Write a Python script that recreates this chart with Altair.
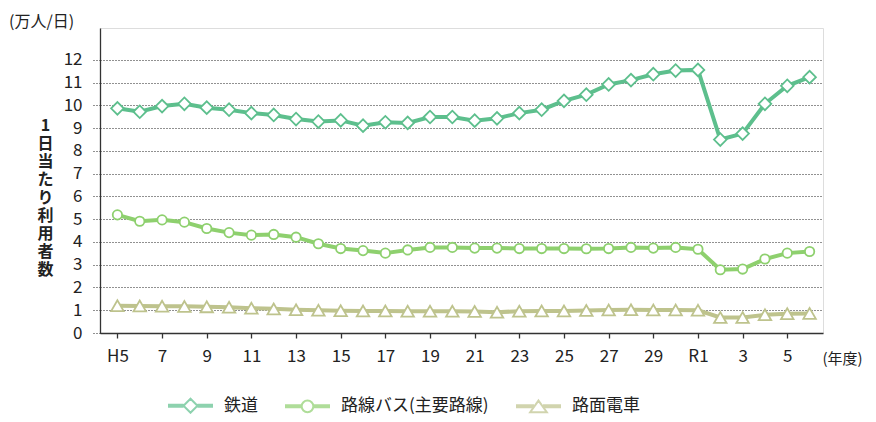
import altair as alt
import pandas as pd

years = ["H5", "H6", "H7", "H8", "H9", "H10", "H11", "H12", "H13", "H14",
         "H15", "H16", "H17", "H18", "H19", "H20", "H21", "H22", "H23", "H24",
         "H25", "H26", "H27", "H28", "H29", "H30", "R1", "R2", "R3", "R4", "R5", "R6"]
tick_labels = ["H5", "7", "9", "11", "13", "15", "17", "19", "21", "23",
               "25", "27", "29", "R1", "3", "5"]
series_names = ["鉄道", "路線バス(主要路線)", "路面電車"]

rail = [9.87, 9.72, 9.97, 10.07, 9.90, 9.81, 9.66, 9.58, 9.40, 9.29,
        9.34, 9.11, 9.26, 9.23, 9.49, 9.49, 9.33, 9.43, 9.66, 9.81,
        10.20, 10.47, 10.92, 11.11, 11.37, 11.53, 11.56, 8.50, 8.76, 10.07, 10.86, 11.24]
bus = [5.19, 4.91, 4.97, 4.87, 4.59, 4.41, 4.30, 4.33, 4.21, 3.92,
       3.71, 3.62, 3.51, 3.65, 3.76, 3.76, 3.73, 3.73, 3.71, 3.71,
       3.71, 3.70, 3.71, 3.76, 3.73, 3.76, 3.68, 2.78, 2.81, 3.25, 3.51, 3.58]
tram = [1.20, 1.19, 1.18, 1.17, 1.15, 1.13, 1.09, 1.06, 1.02, 1.00,
        0.98, 0.97, 0.97, 0.96, 0.96, 0.96, 0.95, 0.91, 0.96, 0.97,
        0.97, 0.99, 1.01, 1.02, 1.01, 1.01, 1.00, 0.68, 0.68, 0.80, 0.85, 0.86]

colors = ["#5DBF8D", "#8ED06E", "#BEC38D"]
shapes = ["diamond", "circle", "triangle-up"]
sizes = [160, 88, 156]

legend_paths = [
    "M-1,-0.044L-0.31,-0.044M-1,0.044L-0.31,0.044M0.31,-0.044L1,-0.044M0.31,0.044L1,0.044"
    "M-0.31,0L0,-0.31L0.31,0L0,0.31Z",
    "M-1,-0.044L-0.26,-0.044M-1,0.044L-0.26,0.044M0.26,-0.044L1,-0.044M0.26,0.044L1,0.044"
    "M0.26,0A0.26,0.26 0 1,1 -0.26,0A0.26,0.26 0 1,1 0.26,0Z",
    "M-1,-0.044L-0.2,-0.044M-1,0.044L-0.2,0.044M0.2,-0.044L1,-0.044M0.2,0.044L1,0.044"
    "M0,-0.25L0.37,0.27L-0.37,0.27Z",
]

rows = []
for name, vals in zip(series_names, [rail, bus, tram]):
    for i, (yr, v) in enumerate(zip(years, vals)):
        rows.append({"series": name, "idx": i, "year": yr, "value": v})
df = pd.DataFrame(rows)

FONT = "Noto Sans CJK JP"
TXT = "#222222"

label_expr = "[" + ",".join("'%s'" % t for t in tick_labels) + "][round(datum.value/2)]"

x_enc = alt.X(
    "idx:Q",
    scale=alt.Scale(domain=[-0.78, 31.6], nice=False, zero=False),
    axis=alt.Axis(
        values=list(range(0, 31, 2)), labelExpr=label_expr, grid=False,
        tickSize=5, tickWidth=1.3, tickColor="#333333",
        domainColor="#333333", domainWidth=1.3,
        labelFont=FONT, labelFontSize=17, labelColor=TXT, labelPadding=10,
        title="(年度)", titleFont=FONT, titleFontSize=15, titleFontWeight="normal",
        titleColor=TXT, titleX=722, titleY=25, titleAlign="left",
        titleBaseline="middle", titleAngle=0,
    ),
)
y_enc = alt.Y(
    "value:Q",
    scale=alt.Scale(domain=[0, 13.4], nice=False, zero=True),
    axis=alt.Axis(
        values=list(range(0, 13)), grid=True, gridDash=[1, 2], gridColor="#222222",
        gridWidth=1, gridOpacity=1,
        tickSize=8, tickDash=[1, 2], tickColor="#222222", tickWidth=1,
        domainColor="#333333", domainWidth=1.3,
        labelFont=FONT, labelFontSize=17, labelColor=TXT, labelPadding=10,
        title=list("1日当たり利用者数"), titleFont=FONT, titleFontSize=16,
        titleFontWeight="bold", titleColor=TXT, titleAngle=0,
        titleX=-55, titleY=97, titleAlign="center", titleBaseline="middle",
        titleLineHeight=18,
    ),
)

base = alt.Chart(df)
layers = []
for name, col, shp, sz in zip(series_names, colors, shapes, sizes):
    sub = base.transform_filter(alt.datum.series == name)
    layers.append(sub.mark_line(color=col, strokeWidth=4).encode(x=x_enc, y=y_enc))
for name, col, shp, sz in zip(series_names, colors, shapes, sizes):
    sub = base.transform_filter(alt.datum.series == name)
    layers.append(
        sub.mark_point(shape=shp, size=sz, filled=True, fill="white", stroke=col,
                       strokeWidth=1.8, opacity=1).encode(x=x_enc, y=y_enc)
    )

leg = alt.Legend(
    orient="none", legendX=67, legendY=354, direction="horizontal", title=None,
    symbolSize=2025, symbolStrokeWidth=2, symbolFillColor="white",
    labelFont=FONT, labelFontSize=17, labelColor=TXT, labelOffset=10,
    columnPadding=23, padding=0,
)
legend_layer = base.transform_filter("false").mark_point(
    filled=True, fill="white", strokeWidth=2
).encode(
    x=x_enc, y=y_enc,
    stroke=alt.Stroke("series:N", scale=alt.Scale(domain=series_names, range=colors), legend=leg),
    shape=alt.Shape("series:N", scale=alt.Scale(domain=series_names, range=legend_paths), legend=leg),
)
layers.append(legend_layer)

chart = alt.layer(*layers).properties(
    width=723, height=305,
    autosize=alt.AutoSizeParams(type="none"),
    padding={"left": 92, "top": 20, "right": 45, "bottom": 81},
    title=alt.TitleParams(
        text="(万人/日)", anchor="start", frame="group", orient="top",
        dx=-91, dy=15, offset=5, baseline="middle", font=FONT, fontSize=16,
        fontWeight="normal", color=TXT,
    ),
).configure_view(stroke=None).configure(background="white")

chart.save("out.html", embed_options={"renderer": "svg", "actions": False})
